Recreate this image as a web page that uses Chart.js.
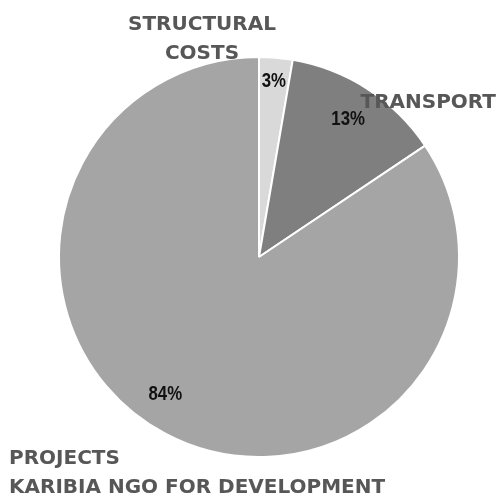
<!DOCTYPE html>
<html>
<head>
<meta charset="utf-8">
<script src="https://cdn.jsdelivr.net/npm/chart.js@4"></script>
<style>
  html, body { margin: 0; padding: 0; background: #fff; }
  #wrap { position: relative; width: 499px; height: 493px; }
</style>
</head>
<body>
<div id="wrap"><canvas id="pieChart"></canvas></div>
<script>
const categories = ['STRUCTURAL COSTS', 'TRANSPORT', 'PROJECTS KARIBIA NGO FOR DEVELOPMENT'];
const shares = [2.7, 12.9, 84.4];
const pctLabels = ['3%', '13%', '84%'];
const colors = ['#d9d9d9', '#7f7f7f', '#a5a5a5'];

// category names drawn as plain text around the pie
const nameLabels = [
    { lines: ['STRUCTURAL', 'COSTS'], x: 202, y: [25, 54], align: 'center' },
    { lines: ['TRANSPORT'], x: 496, y: [103], align: 'right' },
    { lines: ['PROJECTS', 'KARIBIA NGO FOR DEVELOPMENT'], x: 9, y: [459, 488], align: 'left' }
];

const labelPlugin = {
    id: 'sliceLabels',
    afterDraw(chart) {
        const ctx = chart.ctx;
        const arcs = chart.getDatasetMeta(0).data;
        ctx.save();
        ctx.textBaseline = 'middle';
        ctx.textAlign = 'center';
        ctx.fillStyle = '#111';
        ctx.font = 'bold 21px "Liberation Sans", Arial';
        const radial = [0.88, 0.82, 0.83];
        const shift = [0, 0, 0.11]; // small angular nudge, radians
        arcs.forEach((arc, i) => {
            const mid = (arc.startAngle + arc.endAngle) / 2 + shift[i];
            const r = arc.outerRadius * radial[i];
            const px = arc.x + Math.cos(mid) * r;
            const py = arc.y + Math.sin(mid) * r;
            ctx.save();
            ctx.translate(px, py);
            ctx.scale(0.8, 1);
            ctx.fillText(pctLabels[i], 0, 0);
            ctx.restore();
        });

        ctx.fillStyle = '#575757';
        ctx.font = 'bold 20px "DejaVu Sans", sans-serif';
        nameLabels.forEach(lbl => {
            ctx.textAlign = lbl.align;
            lbl.lines.forEach((t, j) => ctx.fillText(t, lbl.x, lbl.y[j]));
        });
        ctx.restore();
    }
};

new Chart(document.getElementById('pieChart').getContext('2d'), {
    type: 'pie',
    data: {
        labels: categories,
        datasets: [{
            data: shares,
            backgroundColor: colors,
            borderColor: '#ffffff',
            borderWidth: 2
        }]
    },
    options: {
        responsive: true,
        maintainAspectRatio: false,
        animation: false,
        layout: { padding: { left: 58, right: 39, top: 56, bottom: 35 } },
        plugins: {
            legend: { display: false },
            tooltip: { enabled: false }
        }
    },
    plugins: [labelPlugin]
});
</script>
</body>
</html>
